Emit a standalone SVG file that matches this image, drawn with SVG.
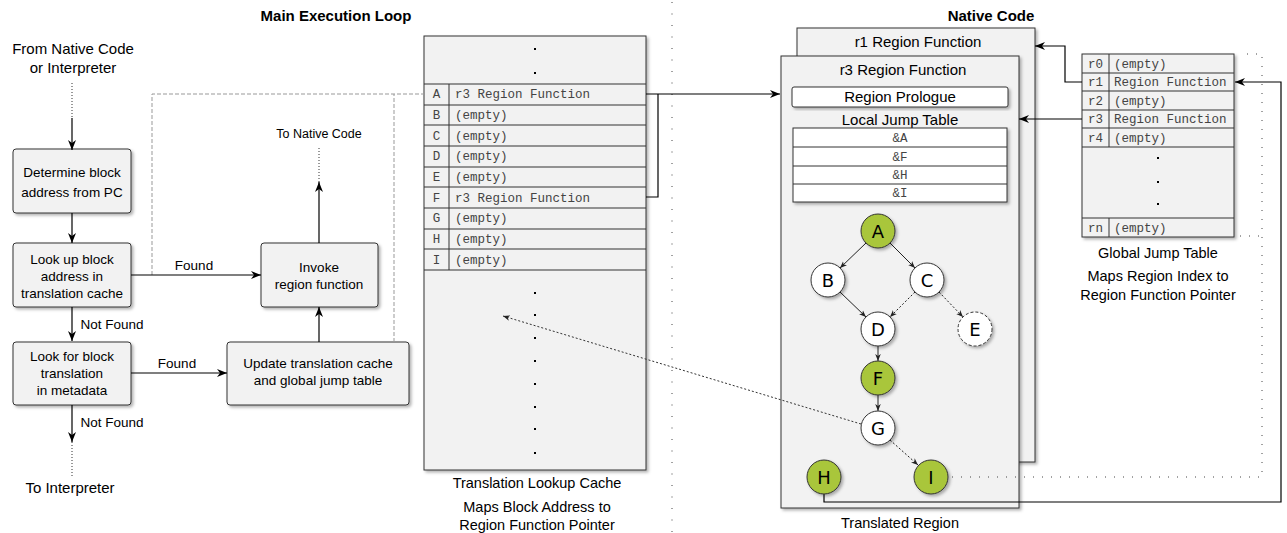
<svg xmlns="http://www.w3.org/2000/svg" width="1287" height="533" viewBox="0 0 1287 533">
<defs>
<style>
.t{font-family:"Liberation Sans",Arial,sans-serif;fill:#000;text-anchor:middle}
.t14{font-size:14.5px}
.t15{font-size:15px}
.t12{font-size:13.5px}
.tn{font-size:12.5px}
.b{font-weight:bold}
.m{font-family:"Liberation Mono","Courier New",monospace;font-size:12.5px;fill:#444}
.mc{font-family:"Liberation Mono","Courier New",monospace;font-size:12.5px;fill:#444;text-anchor:middle}
.box{fill:#f2f2f2;stroke:#333;stroke-width:1}
.wbox{fill:#fff;stroke:#333;stroke-width:1}
.ln{fill:none;stroke:#000;stroke-width:1.2}
.row{stroke:#333;stroke-width:1}
.dot{fill:none;stroke:#333;stroke-width:1;stroke-dasharray:1,2}
.dash{fill:none;stroke:#999;stroke-width:1;stroke-dasharray:4,2}
.gn{fill:#a9c63b;stroke:#333;stroke-width:1}
.wn{fill:#fff;stroke:#333;stroke-width:1}
.nl{font-family:"DejaVu Sans",Verdana,sans-serif;font-size:18px;fill:#000;text-anchor:middle}
.ge{fill:none;stroke:#222;stroke-width:1}
.dots{fill:#000}
</style>
<filter id="sh" x="-10%" y="-10%" width="130%" height="130%"><feDropShadow dx="2" dy="2" stdDeviation="1.5" flood-color="#000" flood-opacity="0.3"/></filter>
<marker id="arr" viewBox="0 0 10 8" refX="10" refY="4" markerWidth="10" markerHeight="8" orient="auto" markerUnits="userSpaceOnUse"><path d="M0,0 L10,4 L0,8 L3,4 Z" fill="#000"/></marker>
<marker id="sarr" viewBox="0 0 10 8" refX="10" refY="4" markerWidth="7" markerHeight="6" orient="auto" markerUnits="userSpaceOnUse"><path d="M0,0 L10,4 L0,8 L3,4 Z" fill="#222"/></marker>
</defs>

<rect width="1287" height="533" fill="#fff"/>

<!-- titles -->
<text class="t t15 b" x="336" y="21">Main Execution Loop</text>
<text class="t t15 b" x="991" y="21">Native Code</text>
<line x1="672" y1="2" x2="672" y2="533" stroke="#444" stroke-width="1" stroke-dasharray="1,10.5"/>

<text class="t t15" x="73" y="54">From Native Code</text>
<text class="t t15" x="73" y="73">or Interpreter</text>
<text class="t tn" x="319" y="138">To Native Code</text>
<text class="t t15" x="70" y="493">To Interpreter</text>

<!-- flowchart nodes -->
<g id="n-determine">
<rect class="box" x="13" y="149" width="118" height="64" rx="3" filter="url(#sh)"/>
<text class="t t12" x="72" y="177">Determine block</text>
<text class="t t12" x="72" y="197">address from PC</text>
</g>
<g id="n-lookup">
<rect class="box" x="13" y="243" width="118" height="64" rx="3" filter="url(#sh)"/>
<text class="t t12" x="72" y="264">Look up block</text>
<text class="t t12" x="72" y="281">address in</text>
<text class="t t12" x="72" y="298">translation cache</text>
</g>
<g id="n-lookfor">
<rect class="box" x="13" y="342" width="118" height="63" rx="3" filter="url(#sh)"/>
<text class="t t12" x="72" y="361">Look for block</text>
<text class="t t12" x="72" y="378">translation</text>
<text class="t t12" x="72" y="395">in metadata</text>
</g>
<g id="n-invoke">
<rect class="box" x="261" y="243" width="117" height="64" rx="3" filter="url(#sh)"/>
<text class="t t12" x="319" y="272">Invoke</text>
<text class="t t12" x="319" y="289">region function</text>
</g>
<g id="n-update">
<rect class="box" x="227" y="342" width="182" height="63" rx="3" filter="url(#sh)"/>
<text class="t t12" x="318" y="368">Update translation cache</text>
<text class="t t12" x="318" y="385">and global jump table</text>
</g>

<!-- translation lookup cache -->
<g id="n-cache">
<rect class="box" x="424" y="36" width="222" height="434" filter="url(#sh)"/>
<rect class="dots" x="534" y="48" width="2" height="2"/>
<rect class="dots" x="534" y="72" width="2" height="2"/>
<line class="row" x1="424" y1="84" x2="646" y2="84"/>
<line class="row" x1="424" y1="105" x2="646" y2="105"/>
<line class="row" x1="424" y1="125" x2="646" y2="125"/>
<line class="row" x1="424" y1="146" x2="646" y2="146"/>
<line class="row" x1="424" y1="167" x2="646" y2="167"/>
<line class="row" x1="424" y1="187" x2="646" y2="187"/>
<line class="row" x1="424" y1="208" x2="646" y2="208"/>
<line class="row" x1="424" y1="229" x2="646" y2="229"/>
<line class="row" x1="424" y1="249" x2="646" y2="249"/>
<line class="row" x1="424" y1="270" x2="646" y2="270"/>
<line class="row" x1="449" y1="84" x2="449" y2="270"/>
<text class="mc" x="436.5" y="98">A</text><text class="m" x="455" y="98">r3 Region Function</text>
<text class="mc" x="436.5" y="119">B</text><text class="m" x="455" y="119">(empty)</text>
<text class="mc" x="436.5" y="140">C</text><text class="m" x="455" y="140">(empty)</text>
<text class="mc" x="436.5" y="160">D</text><text class="m" x="455" y="160">(empty)</text>
<text class="mc" x="436.5" y="181">E</text><text class="m" x="455" y="181">(empty)</text>
<text class="mc" x="436.5" y="202">F</text><text class="m" x="455" y="202">r3 Region Function</text>
<text class="mc" x="436.5" y="222">G</text><text class="m" x="455" y="222">(empty)</text>
<text class="mc" x="436.5" y="243">H</text><text class="m" x="455" y="243">(empty)</text>
<text class="mc" x="436.5" y="264">I</text><text class="m" x="455" y="264">(empty)</text>
<rect class="dots" x="534" y="292" width="2" height="2"/>
<rect class="dots" x="534" y="314" width="2" height="2"/>
<rect class="dots" x="534" y="337" width="2" height="2"/>
<rect class="dots" x="534" y="360" width="2" height="2"/>
<rect class="dots" x="534" y="383" width="2" height="2"/>
<rect class="dots" x="534" y="406" width="2" height="2"/>
<rect class="dots" x="534" y="428" width="2" height="2"/>
<rect class="dots" x="534" y="452" width="2" height="2"/>
<text class="t t14" x="537" y="488">Translation Lookup Cache</text>
<text class="t t14" x="537" y="512">Maps Block Address to</text>
<text class="t t14" x="537" y="530">Region Function Pointer</text>
</g>

<!-- region functions -->
<g id="n-r1">
<rect class="box" x="797" y="28" width="238" height="434" filter="url(#sh)"/>
<text class="t t15" x="918" y="47">r1 Region Function</text>
</g>
<g id="n-r3">
<rect class="box" x="781" y="56" width="238" height="452" filter="url(#sh)"/>
<text class="t t15" x="903" y="75">r3 Region Function</text>
<rect class="wbox" x="792" y="87" width="216" height="20" rx="2" filter="url(#sh)"/>
<text class="t t15" x="900" y="102">Region Prologue</text>
<text class="t t15" x="900" y="125">Local Jump Table</text>
<rect class="wbox" x="793" y="128" width="214" height="74" filter="url(#sh)"/>
<line class="row" x1="793" y1="147" x2="1007" y2="147"/>
<line class="row" x1="793" y1="166" x2="1007" y2="166"/>
<line class="row" x1="793" y1="184" x2="1007" y2="184"/>
<text class="mc" x="900" y="142">&amp;A</text>
<text class="mc" x="900" y="161">&amp;F</text>
<text class="mc" x="900" y="179">&amp;H</text>
<text class="mc" x="900" y="197">&amp;I</text>
<text class="t t14" x="900" y="528">Translated Region</text>
</g>

<!-- global jump table -->
<g id="n-global">
<rect class="box" x="1082" y="54" width="152" height="183" filter="url(#sh)"/>
<line class="row" x1="1082" y1="73" x2="1234" y2="73"/>
<line class="row" x1="1082" y1="91" x2="1234" y2="91"/>
<line class="row" x1="1082" y1="110" x2="1234" y2="110"/>
<line class="row" x1="1082" y1="128" x2="1234" y2="128"/>
<line class="row" x1="1082" y1="147" x2="1234" y2="147"/>
<line class="row" x1="1082" y1="218" x2="1234" y2="218"/>
<line class="row" x1="1109" y1="54" x2="1109" y2="147"/>
<line class="row" x1="1109" y1="218" x2="1109" y2="237"/>
<text class="mc" x="1095.5" y="68">r0</text><text class="m" x="1114" y="68">(empty)</text>
<text class="mc" x="1095.5" y="86">r1</text><text class="m" x="1114" y="86">Region Function</text>
<text class="mc" x="1095.5" y="105">r2</text><text class="m" x="1114" y="105">(empty)</text>
<text class="mc" x="1095.5" y="123">r3</text><text class="m" x="1114" y="123">Region Function</text>
<text class="mc" x="1095.5" y="142">r4</text><text class="m" x="1114" y="142">(empty)</text>
<text class="mc" x="1095.5" y="232">rn</text><text class="m" x="1114" y="232">(empty)</text>
<rect class="dots" x="1157" y="157" width="2" height="2"/>
<rect class="dots" x="1157" y="181" width="2" height="2"/>
<rect class="dots" x="1157" y="203" width="2" height="2"/>
<text class="t t14" x="1158" y="258">Global Jump Table</text>
<text class="t t14" x="1158" y="281">Maps Region Index to</text>
<text class="t t14" x="1158" y="300">Region Function Pointer</text>
</g>

<!-- connectors -->
<g id="connectors">
<path class="dash" d="M152,275 V94 H424"/>
<path class="dash" d="M394,342 V94"/>
<path class="dot" d="M72,83 V118"/>
<path class="ln" d="M72,118 V150" marker-end="url(#arr)"/>
<path class="ln" d="M72,213 V243" marker-end="url(#arr)"/>
<path class="ln" d="M72,307 V341" marker-end="url(#arr)"/>
<text class="t t12" x="112" y="329">Not Found</text>
<path class="ln" d="M72,405 V442" marker-end="url(#arr)"/>
<path class="dot" d="M72,442 V477"/>
<text class="t t12" x="112" y="427">Not Found</text>
<path class="ln" d="M131,275 H261" marker-end="url(#arr)"/>
<text class="t t12" x="194" y="270">Found</text>
<path class="ln" d="M131,373 H227" marker-end="url(#arr)"/>
<text class="t t12" x="177" y="368">Found</text>
<path class="ln" d="M319,342 V307" marker-end="url(#arr)"/>
<path class="ln" d="M319,243 V182" marker-end="url(#arr)"/>
<path class="dot" d="M319,182 V147"/>

<path class="ln" d="M646,94 H780" marker-end="url(#arr)"/>
<path class="ln" d="M646,197 H658 V94"/>
<path fill="none" stroke="#333" stroke-width="1" stroke-dasharray="2,2" d="M861,424 L503,316" marker-end="url(#sarr)"/>

<path class="ln" d="M1082,82 H1065 V46 H1035" marker-end="url(#arr)"/>
<path class="ln" d="M1082,119 H1019" marker-end="url(#arr)"/>
<path class="ln" d="M824,494 V502 H1281 V82 H1235" marker-end="url(#arr)"/>
<path fill="none" stroke="#444" stroke-width="1" stroke-dasharray="1,8" d="M952,477 H1262 V54 H1240"/>
<path fill="none" stroke="#444" stroke-width="1" stroke-dasharray="1,8" d="M1240,236 H1262"/>
</g>

<!-- local graph -->
<g id="graph-edges">
<line class="ge" x1="866" y1="243" x2="840" y2="268" marker-end="url(#sarr)"/>
<line class="ge" x1="890" y1="243" x2="915" y2="268" marker-end="url(#sarr)"/>
<line class="ge" x1="840" y1="292" x2="866" y2="317" marker-end="url(#sarr)"/>
<line class="ge" x1="915" y1="292" x2="890" y2="317" stroke-dasharray="2,2" marker-end="url(#sarr)"/>
<line class="ge" x1="939" y1="292" x2="963" y2="317" stroke-dasharray="2,2" marker-end="url(#sarr)"/>
<line class="ge" x1="878" y1="346" x2="878" y2="361" stroke="#555" marker-end="url(#sarr)"/>
<line class="ge" x1="878" y1="395" x2="878" y2="411" stroke="#555" marker-end="url(#sarr)"/>
<line class="ge" x1="890" y1="440" x2="918" y2="465" stroke-dasharray="2,2" marker-end="url(#sarr)"/>
</g>
<g id="node-A"><circle class="gn" cx="878" cy="231" r="17" filter="url(#sh)"/><text class="nl" x="878" y="237.5">A</text></g>
<g id="node-B"><circle class="wn" cx="828" cy="280" r="17" filter="url(#sh)"/><text class="nl" x="828" y="286.5">B</text></g>
<g id="node-C"><circle class="wn" cx="927" cy="280" r="17" filter="url(#sh)"/><text class="nl" x="927" y="286.5">C</text></g>
<g id="node-D"><circle class="wn" cx="878" cy="329" r="17" filter="url(#sh)"/><text class="nl" x="878" y="335.5">D</text></g>
<g id="node-E"><circle class="wn" cx="975" cy="329" r="17" stroke-dasharray="3,2" filter="url(#sh)"/><text class="nl" x="975" y="335.5">E</text></g>
<g id="node-F"><circle class="gn" cx="878" cy="378" r="17" filter="url(#sh)"/><text class="nl" x="878" y="384.5">F</text></g>
<g id="node-G"><circle class="wn" cx="878" cy="428" r="17" filter="url(#sh)"/><text class="nl" x="878" y="434.5">G</text></g>
<g id="node-H"><circle class="gn" cx="824" cy="477" r="17" filter="url(#sh)"/><text class="nl" x="824" y="483.5">H</text></g>
<g id="node-I"><circle class="gn" cx="931" cy="477" r="17" filter="url(#sh)"/><text class="nl" x="931" y="483.5">I</text></g>
</svg>
